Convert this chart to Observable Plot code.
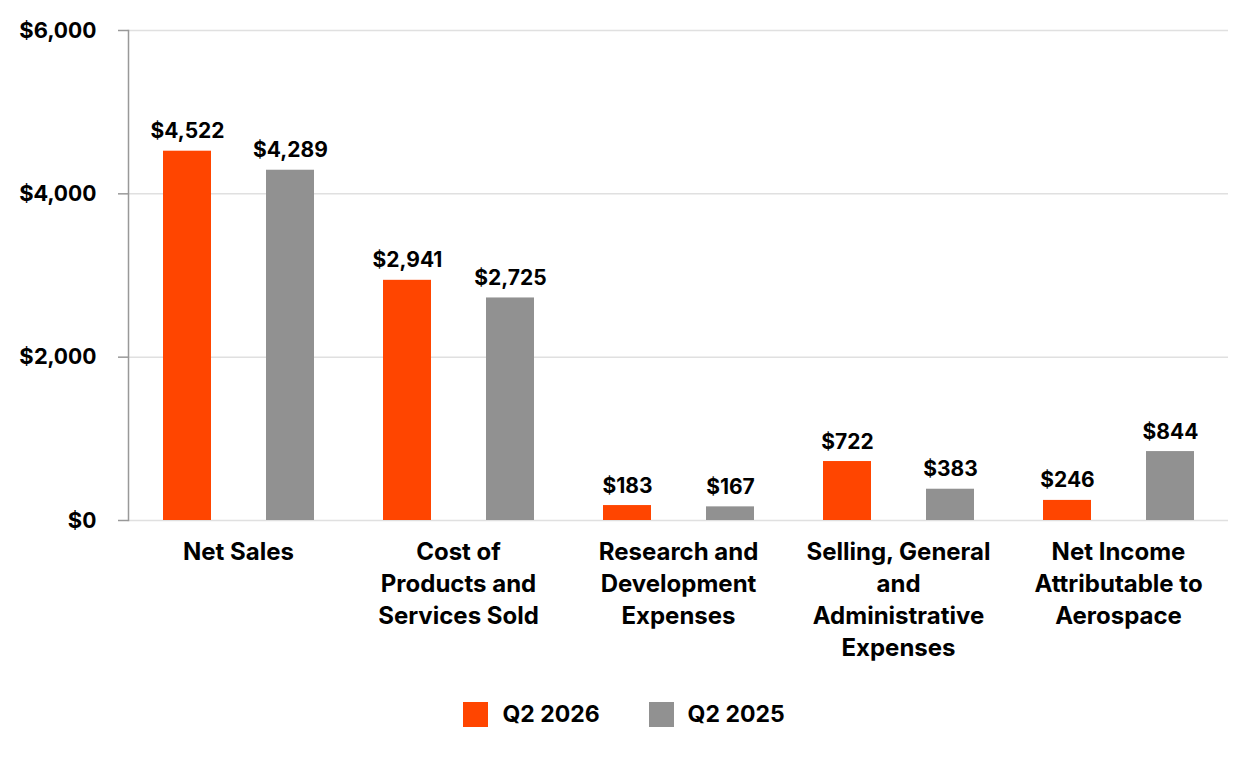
<!DOCTYPE html>
<html><head><meta charset="utf-8">
<script src="https://cdn.jsdelivr.net/npm/d3@7"></script>
<script src="https://cdn.jsdelivr.net/npm/@observablehq/plot@0.6"></script>
<style>
body{margin:0;background:#fff;font-family:Inter, sans-serif;}
#legend{display:flex;justify-content:center;align-items:center;margin-top:20px;font-family:Inter,sans-serif;font-weight:700;font-size:23px;color:#000;}
.item{display:flex;align-items:center;}
.sw{width:25px;height:25px;margin-right:14px;}
.item + .item{margin-left:49px;}
</style></head><body><div id="chart"></div><script>
const categories = ["Net Sales","Cost of Products and Services Sold","Research and Development Expenses","Selling, General and Administrative Expenses","Net Income Attributable to Aerospace"];
const categoryLabels = ["Net Sales","Cost of\nProducts and\nServices Sold","Research and\nDevelopment\nExpenses","Selling, General\nand\nAdministrative\nExpenses","Net Income\nAttributable to\nAerospace"];
const series = ["Q2 2026","Q2 2025"];
const q2_2026 = [4522,2941,183,722,246];
const q2_2025 = [4289,2725,167,383,844];
const colors = ["#ff4500","#919191"];
const yTicks = [0,2000,4000,6000];

const data = [];
categories.forEach((c,i)=>{
  data.push({category:c, series:series[0], value:q2_2026[i]});
  data.push({category:c, series:series[1], value:q2_2025[i]});
});
const fmt = d3.format(",");
const labelOf = new Map(categories.map((c,i)=>[c,categoryLabels[i]]));

const plot = Plot.plot({
  width: 1248, height: 680,
  marginTop: 30, marginBottom: 160, marginLeft: 127, marginRight: 20,
  style: {fontFamily: "Inter, sans-serif", fontWeight: 700, color: "#000", background: "#fff"},
  fx: {domain: categories, padding: 0, label: null},
  x: {domain: series, paddingInner: 0.538, paddingOuter: 0.327, axis: null},
  y: {domain: [0, 6000], label: null},
  color: {domain: series, range: colors},
  marks: [
    Plot.gridY(yTicks, {stroke: "#e0e0e0", strokeOpacity: 1, strokeWidth: 1.5}),
    Plot.axisY({ticks: yTicks, tickFormat: d => "$" + fmt(d), tickSize: 10, tickPadding: 22, stroke: "#999", strokeWidth: 1.5, fontSize: 22, label: null}),
    Plot.frame({anchor: "left", stroke: "#999", strokeWidth: 1.5, facetAnchor: "left"}),
    Plot.barY(data, {fx: "category", x: "series", y: "value", fill: "series"}),
    Plot.text(data, {fx: "category", x: "series", y: "value", text: d => "$" + fmt(d.value), lineAnchor: "bottom", dy: -13, fontSize: 21, fontWeight: 700, fill: "#000"}),
    Plot.axisFx({anchor: "bottom", tickSize: 0, tickPadding: 17, tickFormat: d => labelOf.get(d), fontSize: 24, lineHeight: 1.333, label: null, lineAnchor: "top"})
  ]
});
document.getElementById("chart").appendChild(plot);

const legend = document.createElement("div");
legend.id = "legend";
series.forEach((s,i)=>{
  const it = document.createElement("div"); it.className = "item";
  const sw = document.createElement("div"); sw.className = "sw"; sw.style.background = colors[i];
  const t = document.createElement("span"); t.textContent = s;
  it.appendChild(sw); it.appendChild(t); legend.appendChild(it);
});
document.body.appendChild(legend);
</script></body></html>
